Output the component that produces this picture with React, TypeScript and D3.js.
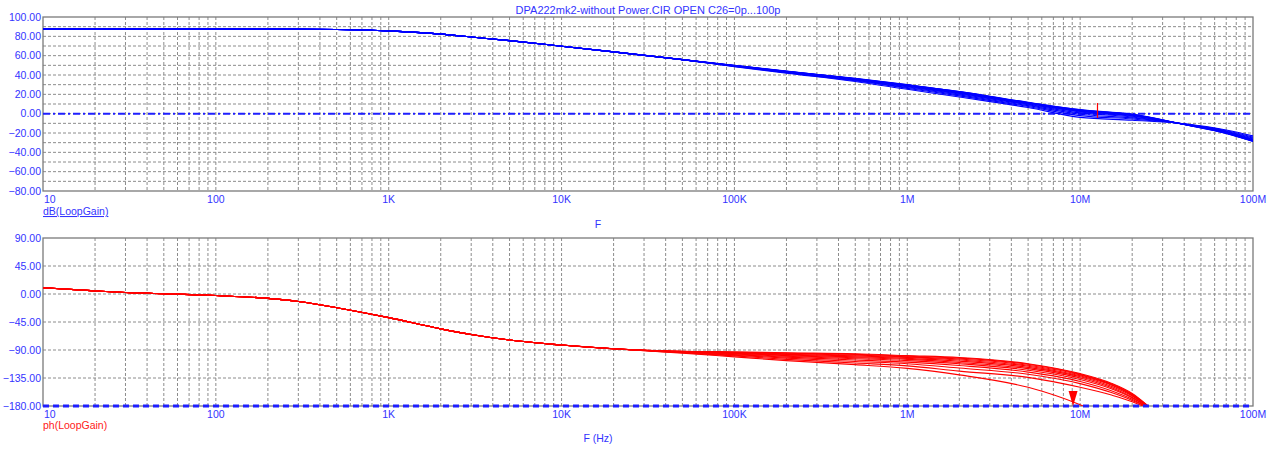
import React from 'react';
import * as d3 from 'd3';

// ---------- data ----------
const titleText = 'DPA222mk2-without Power.CIR OPEN C26=0p...100p';
const xTickValues = [10, 100, 1e3, 1e4, 1e5, 1e6, 1e7, 1e8];
const xTickLabels = ['10', '100', '1K', '10K', '100K', '1M', '10M', '100M'];
const gainTicks = [100, 80, 60, 40, 20, 0, -20, -40, -60, -80];
const phaseTicks = [90, 45, 0, -45, -90, -135, -180];

// shared low-frequency part (all C26 values identical)
const gainLowFreq = [10, 20, 50, 100, 200, 500, 1e3, 2e3, 3e3, 5e3, 1e4, 2e4, 5e4];
const gainLowDb = [87.6, 87.6, 87.6, 87.6, 87.5, 87.0, 85.6, 82.3, 79.3, 75.6, 69.8, 63.9, 55.9];

// high-frequency part: rows = frequency, columns = curve (C26 = 0p ... 100p)
const gainHighFreq = [1e5, 2e5, 5e5, 1e6, 2e6, 5e6, 1e7, 2e7, 4e7, 7e7, 1e8];
const gainHighDb = [
  [50.0, 49.9, 49.8, 49.7, 49.6, 49.5, 49.4, 49.3, 49.1, 48.9, 48.7],
  [44.0, 43.9, 43.8, 43.6, 43.5, 43.4, 43.2, 43.0, 42.7, 42.3, 41.9],
  [36.5, 36.4, 36.2, 36.0, 35.8, 35.6, 35.3, 35.0, 34.5, 34.0, 33.3],
  [30.0, 29.8, 29.6, 29.3, 29.0, 28.7, 28.3, 27.8, 27.0, 26.2, 25.2],
  [23.0, 22.8, 22.5, 22.2, 21.9, 21.5, 21.0, 20.3, 19.4, 18.4, 17.2],
  [11.8, 11.6, 11.3, 11.0, 10.7, 10.3, 9.8, 9.2, 8.3, 7.4, 6.3],
  [4.2, 4.0, 3.7, 3.3, 2.9, 2.4, 1.8, 0.8, -0.6, -2.0, -3.8],
  [-0.5, -0.7, -1.0, -1.3, -1.7, -2.1, -2.6, -3.4, -4.4, -5.5, -6.8],
  [-11.2, -11.2, -11.1, -11.1, -11.0, -11.0, -10.9, -10.8, -10.7, -10.6, -10.5],
  [-20.5, -20.3, -20.1, -19.9, -19.7, -19.4, -19.1, -18.7, -18.2, -17.6, -16.9],
  [-28.8, -28.6, -28.3, -28.0, -27.7, -27.3, -26.8, -26.2, -25.3, -24.3, -23.0],
];

const phaseLowFreq = [10, 20, 30, 50, 100, 200, 300, 500, 1e3, 2e3, 3e3, 5e3, 1e4, 2e4];
const phaseLowDeg = [10, 5, 2.5, 0.5, -2.5, -7, -12, -22, -38, -56, -65, -74, -82, -88];

const phaseHighFreq = [5e4, 1e5, 2e5, 5e5, 1e6, 2e6, 5e6, 1e7, 1.5e7, 2e7, 2.5e7, 3e7];
const phaseHighDeg = [
  [-92, -92.2, -92.4, -92.6, -92.8, -93, -93.3, -93.6, -94, -94.5, -95],
  [-93, -93.5, -94, -94.5, -95, -95.5, -96.5, -97.5, -98.5, -99.5, -101],
  [-94.5, -95, -96, -97, -98, -99, -100, -101.5, -103, -105, -107],
  [-96, -97, -98, -99.5, -101, -102.5, -104, -106, -108.5, -111, -113.5],
  [-99, -100, -101, -102, -103.5, -105, -107, -109.5, -112, -115.5, -119.5],
  [-102, -103, -104.5, -106, -108, -110, -112, -115, -119, -124, -130],
  [-112, -113, -114.5, -116, -118, -120, -122.5, -125.5, -129, -134, -150],
  [-128, -129, -130, -131.5, -133, -135, -137.5, -140.5, -144, -150, -178],
  [-143, -144, -145, -146, -148, -150, -152, -155, -158, -162, -200],
  [-160, -161, -162, -163, -164, -166, -167, -169, -171, -173, -200],
  [-181, -181, -182, -182, -182, -183, -183, -184, -184, -185, -200],
  [-200, -200, -200, -200, -200, -200, -200, -200, -200, -200, -200],
];

const curveCount = 11;
const gainCursor = { freq: 1.26e7, from: 11, to: -4.5 };
const phaseCursor = { freq: 9.1e6, value: -180 };

// ---------- styling ----------
const FONT = '"Liberation Sans", Arial, sans-serif';
const BLUE_TXT = '#3333ff';
const GRID = '#8c8c8c';
const AXIS = '#7a7a7a';

export default function App() {
  const x = d3.scaleLog().domain([10, 1e8]).range([43, 1253]);
  const yTop = d3.scaleLinear().domain([-80, 100]).range([191, 17]);
  const yBot = d3.scaleLinear().domain([-180, 90]).range([406, 238]);

  const gainCurves: [number, number][][] = d3.range(curveCount).map((c) => [
    ...gainLowFreq.map((f, i) => [f, gainLowDb[i]] as [number, number]),
    ...gainHighFreq.map((f, i) => [f, gainHighDb[i][c]] as [number, number]),
  ]);
  const phaseCurves: [number, number][][] = d3.range(curveCount).map((c) => [
    ...phaseLowFreq.map((f, i) => [f, phaseLowDeg[i]] as [number, number]),
    ...phaseHighFreq.map((f, i) => [f, phaseHighDeg[i][c]] as [number, number]),
  ]);

  const lineTop = d3
    .line<[number, number]>()
    .x((d) => x(d[0]))
    .y((d) => yTop(d[1]))
    .curve(d3.curveMonotoneX);
  const lineBot = d3
    .line<[number, number]>()
    .x((d) => x(d[0]))
    .y((d) => yBot(d[1]))
    .curve(d3.curveMonotoneX);

  const minorFreqs: number[] = [];
  for (let d = 10; d < 1e8; d *= 10) {
    for (let k = 1; k <= 9; k++) {
      const f = k * d;
      if (f > 10 && f < 1e8) minorFreqs.push(f);
    }
  }
  const [x0, x1] = x.range();

  const panel = (
    y: d3.ScaleLinear<number, number>,
    hGrid: number[],
    ticks: number[]
  ) => {
    const [yb, yt] = y.range();
    return (
      <g>
        {minorFreqs.map((f) => (
          <line
            key={'v' + f}
            x1={x(f)}
            x2={x(f)}
            y1={yt}
            y2={yb}
            stroke={GRID}
            strokeWidth={1}
            strokeDasharray="3,2"
          />
        ))}
        {hGrid.map((v) => (
          <line
            key={'h' + v}
            x1={x0}
            x2={x1}
            y1={y(v)}
            y2={y(v)}
            stroke={GRID}
            strokeWidth={1}
            strokeDasharray="3,2"
          />
        ))}
        <rect x={x0} y={yt} width={x1 - x0} height={yb - yt} fill="none" stroke={AXIS} strokeWidth={1.3} />
        {ticks.map((v) => (
          <text
            key={'t' + v}
            x={x0 - 2}
            y={y(v)}
            dy="0.35em"
            textAnchor="end"
            fontSize={10.5}
            fontFamily={FONT}
            fill={BLUE_TXT}
          >
            {d3.format('.2f')(v)}
          </text>
        ))}
        {xTickValues.map((f, i) => (
          <text
            key={'x' + f}
            x={i === 0 ? x(f) + 1 : x(f)}
            y={yb + 12}
            textAnchor={i === 0 ? 'start' : 'middle'}
            fontSize={10.5}
            fontFamily={FONT}
            fill={BLUE_TXT}
          >
            {xTickLabels[i]}
          </text>
        ))}
      </g>
    );
  };

  const topGrid = d3.range(-70, 100, 10);
  const botGrid = [45, 0, -45, -90, -135];

  const cx = x(phaseCursor.freq);
  const cy = yBot(phaseCursor.value);

  return (
    <svg
      width={1280}
      height={456}
      style={{ position: 'absolute', left: 0, top: 0, background: '#fff' }}
    >
      <defs>
        <clipPath id="clipTop">
          <rect x={x0} y={yTop(100)} width={x1 - x0} height={yTop(-80) - yTop(100)} />
        </clipPath>
        <clipPath id="clipBot">
          <rect x={x0} y={yBot(90)} width={x1 - x0} height={yBot(-180) - yBot(90)} />
        </clipPath>
      </defs>
      <text x={(x0 + x1) / 2} y={14} textAnchor="middle" fontSize={11} fontFamily={FONT} fill={BLUE_TXT}>
        {titleText}
      </text>

      {panel(yTop, topGrid, gainTicks)}
      {panel(yBot, botGrid, phaseTicks)}

      {/* reference lines */}
      <line x1={x0} x2={x1} y1={yTop(0)} y2={yTop(0)} stroke="#1f1fff" strokeWidth={2} strokeDasharray="7,3,2,3" />

      <g clipPath="url(#clipTop)">
        {gainCurves.map((c, i) => (
          <path key={i} d={lineTop(c) || ''} fill="none" stroke="#0000ff" strokeWidth={1.1} />
        ))}
      </g>
      <line
        x1={x(gainCursor.freq)}
        x2={x(gainCursor.freq)}
        y1={yTop(gainCursor.from)}
        y2={yTop(gainCursor.to)}
        stroke="#ff0000"
        strokeWidth={1.2}
      />

      <g clipPath="url(#clipBot)">
        {phaseCurves.map((c, i) => (
          <path key={i} d={lineBot(c) || ''} fill="none" stroke="#ff0000" strokeWidth={1.1} />
        ))}
      </g>
      <line x1={x0} x2={x1} y1={yBot(-180)} y2={yBot(-180)} stroke="#1f1fff" strokeWidth={3} strokeDasharray="6,4" />
      <path d={`M${cx - 4.5},${cy - 15}L${cx + 4.5},${cy - 15}L${cx},${cy}Z`} fill="#ff0000" />

      {/* axis names */}
      <text x={x0} y={215} fontSize={10.5} fontFamily={FONT} fill={BLUE_TXT} textDecoration="underline">
        dB(LoopGain)
      </text>
      <text x={598} y={228} textAnchor="middle" fontSize={10.5} fontFamily={FONT} fill={BLUE_TXT}>
        F
      </text>
      <text x={x0} y={429} fontSize={10.5} fontFamily={FONT} fill="#ff2020">
        ph(LoopGain)
      </text>
      <text x={598} y={442} textAnchor="middle" fontSize={10.5} fontFamily={FONT} fill={BLUE_TXT}>
        F (Hz)
      </text>
    </svg>
  );
}
